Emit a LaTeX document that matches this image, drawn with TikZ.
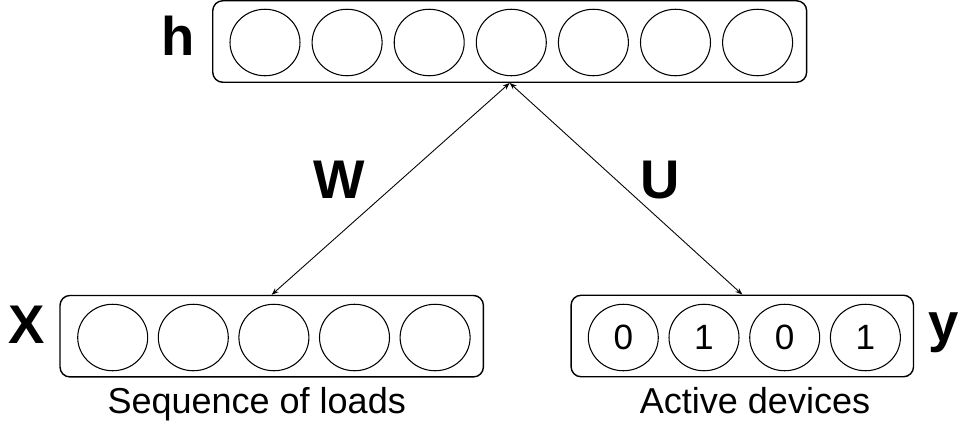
\documentclass[tikz,border=0pt]{standalone}
\usepackage{fontspec}
\setmainfont{Liberation Sans}
\usetikzlibrary{shapes.geometric,arrows.meta}

\begin{document}
\begin{tikzpicture}[x=0.02cm,y=-0.02cm,
	layer/.style={draw,rounded corners=0.2cm,line width=0.8pt,inner sep=0,minimum height=1.63cm},
	unit/.style={draw,ellipse,line width=0.6pt,inner sep=0,minimum width=1.4cm,minimum height=1.33cm,font=\fontsize{20}{24}\selectfont},
	symb/.style={font=\bfseries\fontsize{31}{36}\selectfont,anchor=base},
	descr/.style={font=\fontsize{20.5}{24}\selectfont,anchor=base},
	link/.style={{Stealth[length=4pt,width=3pt]}-{Stealth[length=4pt,width=3pt]},line width=0.5pt}]
\useasboundingbox (0,0) rectangle (961,427);

% layers
\node[layer,minimum width=11.88cm] (h) at (509.7,41.5) {};
\node[layer,minimum width=8.47cm] (x) at (271.7,336.2) {};
\node[layer,minimum width=6.85cm] (y) at (742.3,336) {};

% units
\foreach \i in {0,...,6}{
	\node[unit] (h\i) at (265+82.1*\i,42.5) {};
}
\foreach \i in {0,...,4}{
	\node[unit] (x\i) at (112.7+80.6*\i,337.5) {};
}
\foreach \v [count=\i from 0] in {0,1,0,1}{
	\node[unit] (y\i) at (623.3+80.7*\i,337.5) {\v};
}

% names and weights
\node[symb] (hname) at (178.5,55) {h};
\node[symb] (xname) at (26.7,343.3) {X};
\node[symb] (yname) at (944,341) {y};
\node[symb] (wname) at (339.7,198.3) {W};
\node[symb] (uname) at (660,198.3) {U};

\node[descr] (xdescr) at (256.7,413.3) {Sequence of loads};
\node[descr] (ydescr) at (755,413.3) {Active devices};

\draw[link] (h.south) -- (x.north);
\draw[link] (h.south) -- (y.north);

\end{tikzpicture}
\end{document}
